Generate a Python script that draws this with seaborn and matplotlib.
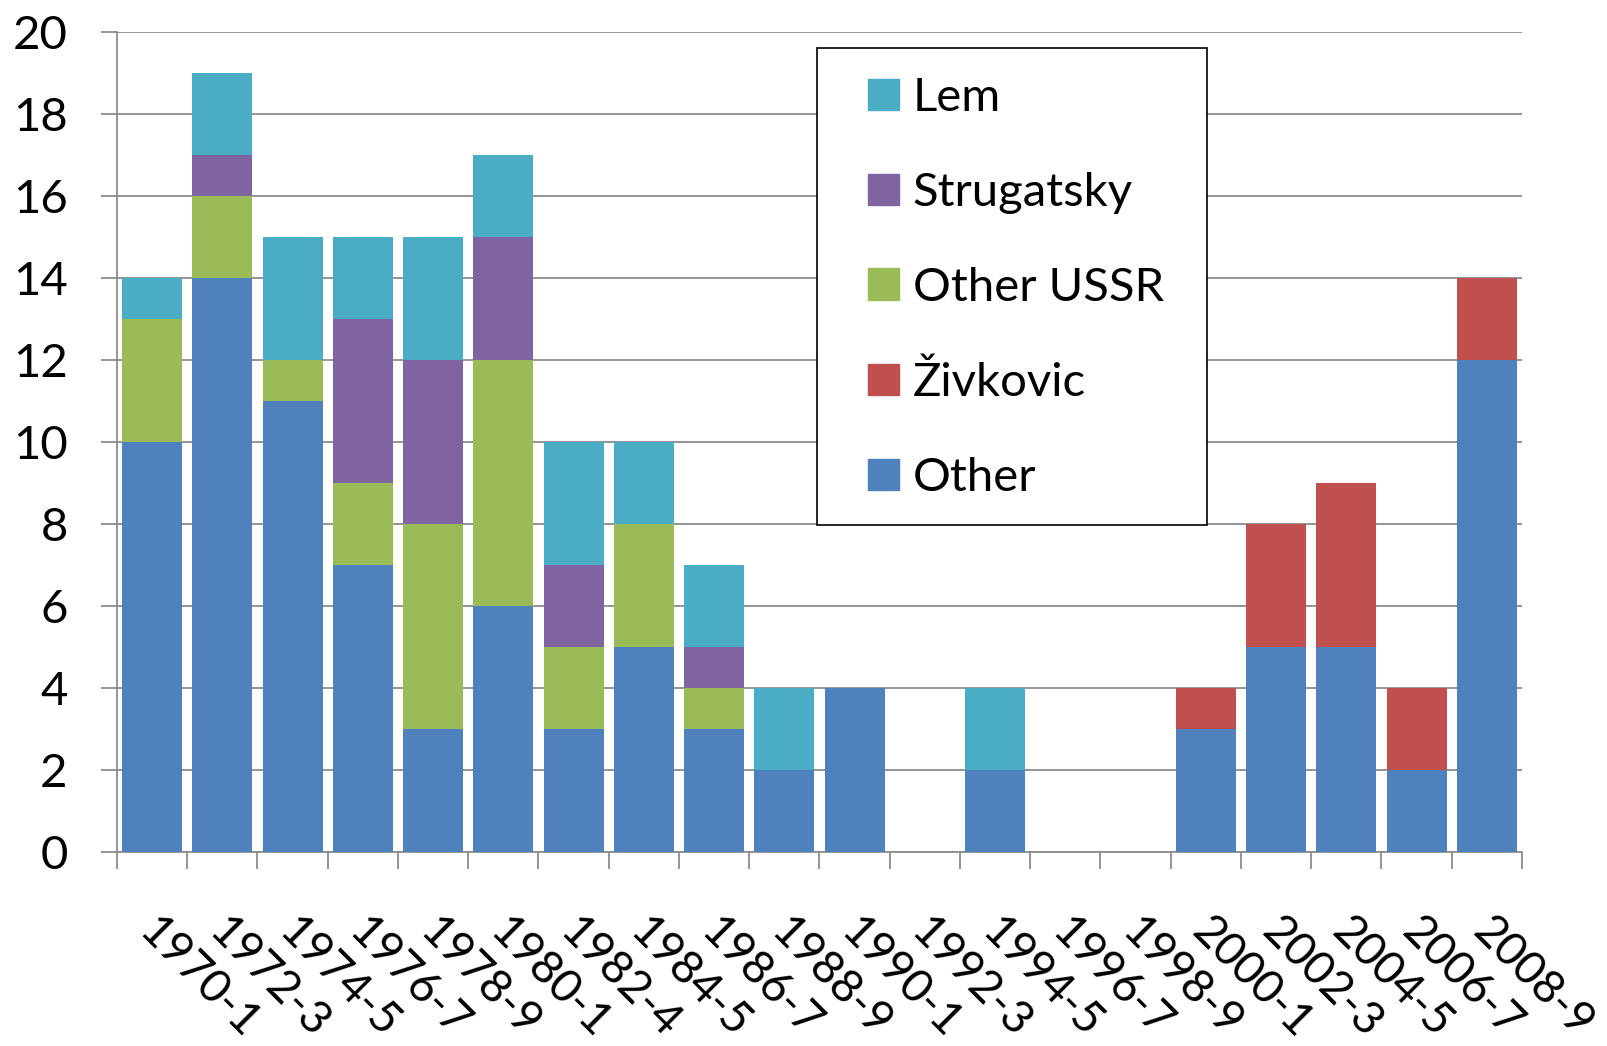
import numpy as np
import pandas as pd
import matplotlib
matplotlib.use("Agg")
import matplotlib.pyplot as plt
import matplotlib.patches as mpatches
import matplotlib.transforms as mtransforms
from matplotlib.ticker import FixedLocator
import seaborn as sns

# ==========================================
# DATA
# ==========================================
periods = ['1970-1', '1972-3', '1974-5', '1976-7', '1978-9', '1980-1', '1982-4',
           '1984-5', '1986-7', '1988-9', '1990-1', '1992-3', '1994-5', '1996-7',
           '1998-9', '2000-1', '2002-3', '2004-5', '2006-7', '2008-9']

other      = [10, 14, 11, 7, 3, 6, 3, 5, 3, 2, 4, 0, 2, 0, 0, 3, 5, 5, 2, 12]
zivkovic   = [0, 0, 0, 0, 0, 0, 0, 0, 0, 0, 0, 0, 0, 0, 0, 1, 3, 4, 2, 2]
other_ussr = [3, 2, 1, 2, 5, 6, 2, 3, 1, 0, 0, 0, 0, 0, 0, 0, 0, 0, 0, 0]
strugatsky = [0, 1, 0, 4, 4, 3, 2, 0, 1, 0, 0, 0, 0, 0, 0, 0, 0, 0, 0, 0]
lem        = [1, 2, 3, 2, 3, 2, 3, 2, 2, 2, 0, 0, 2, 0, 0, 0, 0, 0, 0, 0]

# bottom-to-top stacking order
series = [
    ('Other', other, '#4F81BD'),
    ('Živkovic', zivkovic, '#C0504D'),
    ('Other USSR', other_ussr, '#9BBB59'),
    ('Strugatsky', strugatsky, '#8064A2'),
    ('Lem', lem, '#4BACC6'),
]

sns.set_style('white')
plt.rcParams['font.family'] = ['Lato', 'DejaVu Sans']
plt.rcParams['text.color'] = 'black'

df = pd.DataFrame({'period': periods})
running = np.zeros(len(periods))
cums = []
for name, vals, color in series:
    running = running + np.array(vals)
    cums.append((name, running.copy(), color))

W, H = 1608, 1046
fig = plt.figure(figsize=(W / 100, H / 100), dpi=100)
ax = fig.add_axes([117 / W, 1 - 852 / H, (1522 - 117) / W, (852 - 32) / H])

# draw cumulative totals from the top layer down so each layer covers the one above
for name, cum, color in reversed(cums):
    sns.barplot(x=df['period'], y=cum, color=color, width=0.855,
                linewidth=0, saturation=1, ax=ax, zorder=3)

ax.set_xlim(-0.5, len(periods) - 0.5)
ax.set_ylim(0, 20)
ax.set_yticks(range(0, 21, 2))
ax.set_xlabel('')
ax.set_ylabel('')

grid_c = '#8C8C8C'
ax.yaxis.grid(True, color=grid_c, linewidth=1.3, zorder=0)
ax.set_axisbelow(True)
for s in ['top', 'right']:
    ax.spines[s].set_visible(False)
for s in ['left', 'bottom']:
    ax.spines[s].set_color(grid_c)
    ax.spines[s].set_linewidth(1.3)

ax.tick_params(axis='y', which='major', direction='out', length=11.5, width=1.3,
               color=grid_c, labelcolor='black', labelsize=34, pad=24, left=True)
ax.tick_params(axis='x', which='major', length=0, labelsize=33, pad=42,
               labelcolor='black')
ax.xaxis.set_minor_locator(FixedLocator(np.arange(-0.5, len(periods), 1.0)))
ax.tick_params(axis='x', which='minor', direction='out', length=12, width=1.3,
               color=grid_c, bottom=True)
shift = mtransforms.ScaledTranslation(-22 / 100, 0, fig.dpi_scale_trans)
for lab in ax.get_xticklabels():
    lab.set_rotation(-45)
    lab.set_ha('left')
    lab.set_va('top')
    lab.set_transform(lab.get_transform() + shift)

# legend frame drawn separately so its padding matches the original box
frame = mpatches.Rectangle((817 / W, 1 - 525 / H), (1207 - 817) / W, (525 - 48) / H,
                           transform=fig.transFigure, facecolor='white',
                           edgecolor='black', linewidth=1.2, zorder=4,
                           clip_on=False)
ax.add_artist(frame)
handles = [mpatches.Patch(color=c, label=n) for n, v, c in reversed(series)]
leg = ax.legend(handles=handles, loc='upper left',
                bbox_to_anchor=(868 / W, 1 - 77 / H),
                bbox_transform=fig.transFigure,
                fontsize=34, frameon=False, borderpad=0,
                labelspacing=1.12, handlelength=0.65, handleheight=0.65,
                handletextpad=0.3, borderaxespad=0)
leg.set_zorder(5)

fig.savefig('out.png', dpi=100)
